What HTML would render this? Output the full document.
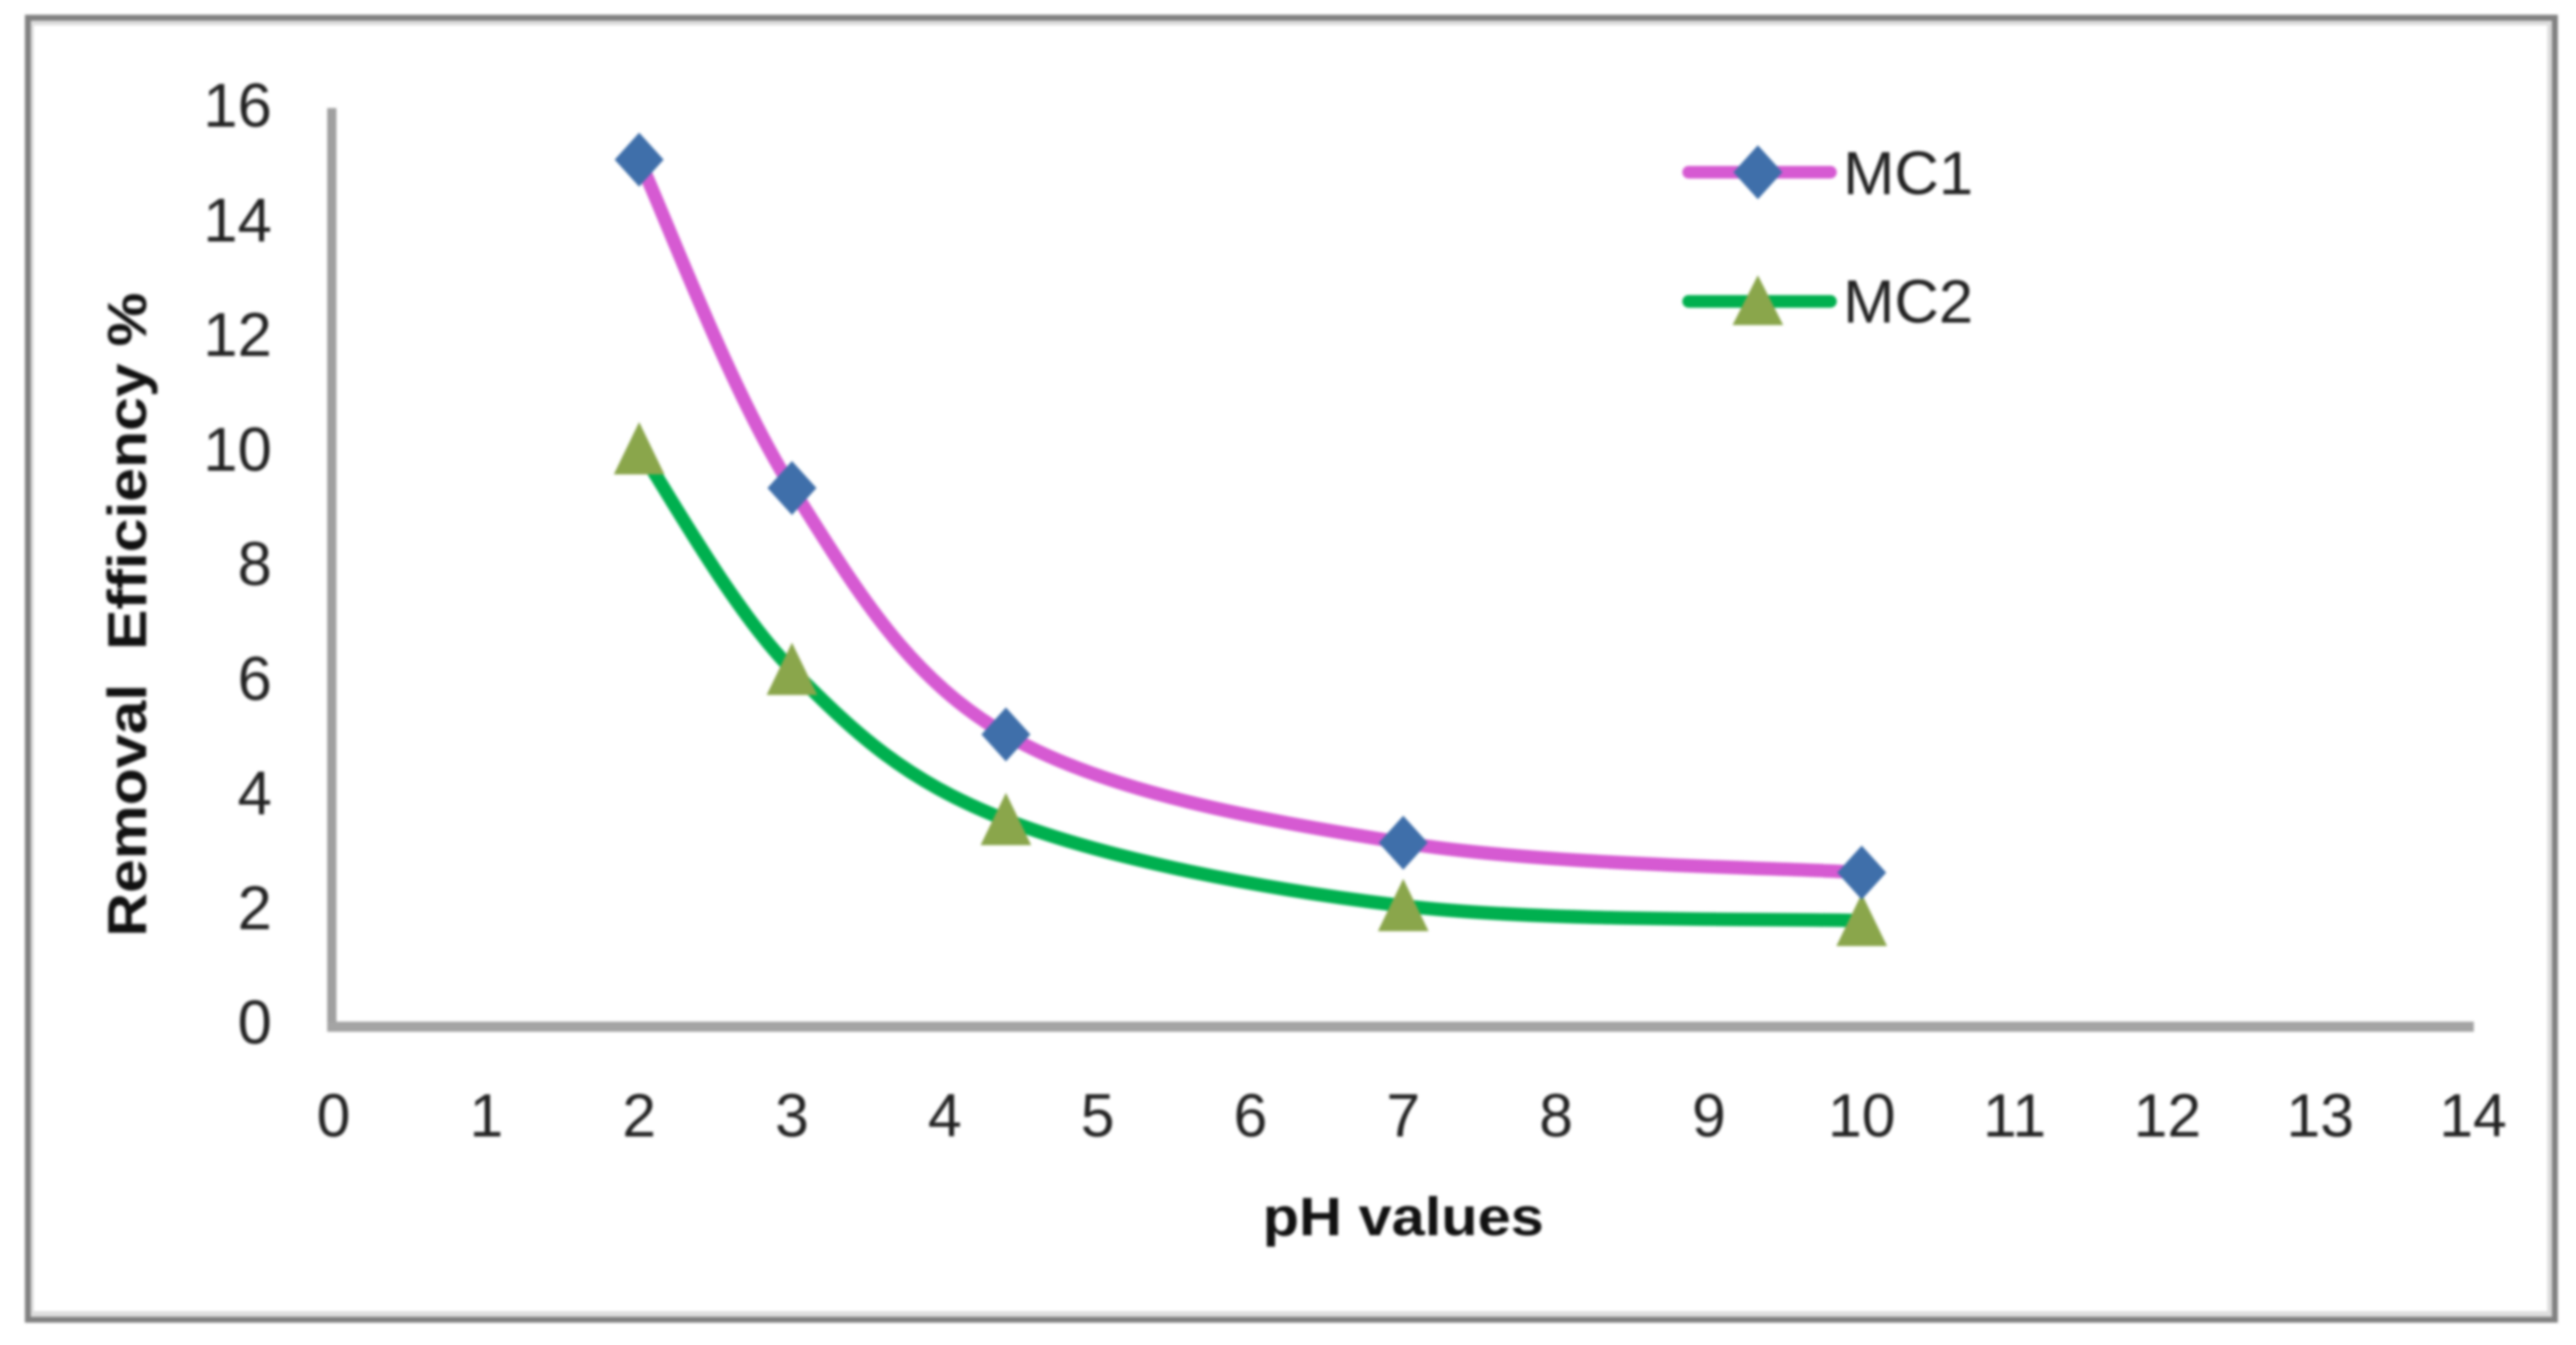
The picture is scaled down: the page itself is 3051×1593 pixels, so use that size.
<!DOCTYPE html>
<html lang="en">
<head>
<meta charset="utf-8">
<title>Removal Efficiency vs pH</title>
<style>
html,body{margin:0;padding:0;background:#fff;width:3051px;height:1593px;overflow:hidden}
svg{display:block}
text{font-family:"Liberation Sans",sans-serif;fill:#222}
#chart{filter:blur(1.5px)}
</style>
</head>
<body>
<svg id="root" width="3051" height="1593" viewBox="0 0 3051 1593" xmlns="http://www.w3.org/2000/svg">
  <g id="chart">
    <rect x="37" y="27" width="2983" height="1529" fill="none" stroke="#dddddd" stroke-width="6"/>
    <rect x="33" y="21" width="2993" height="1542" fill="#ffffff" fill-opacity="0" stroke="#808080" stroke-width="7"/>
    <line x1="393" y1="128" x2="393" y2="1222" stroke="#a0a0a0" stroke-width="11"/>
    <line x1="388" y1="1216" x2="2930" y2="1216" stroke="#a4a4a4" stroke-width="12"/>
    <g id="ticks"></g>
    <g id="series"></g>
    <text x="0" y="0" transform="translate(173 728) rotate(-90)" text-anchor="middle" font-size="65" font-weight="bold" textLength="763" lengthAdjust="spacingAndGlyphs" style="fill:#111;white-space:pre" xml:space="preserve">Removal  Efficiency %</text>
    <text x="1662" y="1463" text-anchor="middle" font-size="64" font-weight="bold" textLength="333" lengthAdjust="spacingAndGlyphs" style="fill:#111">pH values</text>
    <g>
      <g>
        <line x1="2000" y1="204" x2="2168" y2="204" stroke="#d65ad2" stroke-width="15" stroke-linecap="round"/>
        <polygon points="2082,172 2111,204 2082,236 2053,204" fill="#3f6faa"/>
        <text x="2183" y="230" font-size="72" textLength="154" lengthAdjust="spacingAndGlyphs">MC1</text>
      </g>
      <g>
        <line x1="2000" y1="357" x2="2168" y2="357" stroke="#00b04f" stroke-width="15" stroke-linecap="round"/>
        <polygon points="2082,326 2112,385 2052,385" fill="#8aa64b"/>
        <text x="2183" y="382" font-size="72" textLength="154" lengthAdjust="spacingAndGlyphs">MC2</text>
      </g>
    </g>
  </g>
</svg>
<script>
const phValues = [2, 3, 4.4, 7, 10];
const mc1Values = [15.1, 9.37, 5.07, 3.18, 2.66];
const mc2Values = [10.05, 6.2, 3.58, 2.08, 1.82];
const xTickLabels = [0, 1, 2, 3, 4, 5, 6, 7, 8, 9, 10, 11, 12, 13, 14];
const yTickLabels = [0, 2, 4, 6, 8, 10, 12, 14, 16];

const NS = 'http://www.w3.org/2000/svg';
const xMax = 14, yMax = 16;
function xScale(v) { return 395 + v * (2929 - 395) / xMax; }
function yScale(v) { return 1214 - v * (1214 - 128) / yMax; }

function smoothPath(xs, ys) {
  const pts = xs.map(function (x, i) { return [xScale(x), yScale(ys[i])]; });
  let d = 'M' + pts[0][0] + ' ' + pts[0][1];
  for (let i = 0; i < pts.length - 1; i++) {
    const p0 = pts[Math.max(i - 1, 0)], p1 = pts[i], p2 = pts[i + 1], p3 = pts[Math.min(i + 2, pts.length - 1)];
    const c1x = p1[0] + (p2[0] - p0[0]) / 6, c1y = p1[1] + (p2[1] - p0[1]) / 6;
    const c2x = p2[0] - (p3[0] - p1[0]) / 6, c2y = p2[1] - (p3[1] - p1[1]) / 6;
    d += ' C' + c1x + ' ' + c1y + ' ' + c2x + ' ' + c2y + ' ' + p2[0] + ' ' + p2[1];
  }
  return d;
}

const ticks = document.getElementById('ticks');
xTickLabels.forEach(function (t) {
  const el = document.createElementNS(NS, 'text');
  
  
  el.setAttribute('x', xScale(t));
  el.setAttribute('y', 1346);
  el.setAttribute('text-anchor', 'middle');
  el.setAttribute('font-size', 72);
  el.textContent = t;
  ticks.appendChild(el);
});
yTickLabels.forEach(function (t) {
  const el = document.createElementNS(NS, 'text');
  
  
  el.setAttribute('x', 322);
  el.setAttribute('y', yScale(t) + 22);
  el.setAttribute('text-anchor', 'end');
  el.setAttribute('font-size', 73);
  el.textContent = t;
  ticks.appendChild(el);
});

const series = document.getElementById('series');

const lineMc1 = document.createElementNS(NS, 'path');


lineMc1.setAttribute('d', smoothPath(phValues, mc1Values));
lineMc1.setAttribute('fill', 'none');
lineMc1.setAttribute('stroke', '#d65ad2');
lineMc1.setAttribute('stroke-width', 16);
series.appendChild(lineMc1);

const lineMc2 = document.createElementNS(NS, 'path');


lineMc2.setAttribute('d', smoothPath(phValues, mc2Values));
lineMc2.setAttribute('fill', 'none');
lineMc2.setAttribute('stroke', '#00b04f');
lineMc2.setAttribute('stroke-width', 16);
series.appendChild(lineMc2);

phValues.forEach(function (ph, i) {
  const cx = xScale(ph), cy = yScale(mc2Values[i]);
  const el = document.createElementNS(NS, 'polygon');
  
  
  el.setAttribute('points', cx + ',' + (cy - 32) + ' ' + (cx + 30) + ',' + (cy + 30) + ' ' + (cx - 30) + ',' + (cy + 30));
  el.setAttribute('fill', '#8aa64b');
  series.appendChild(el);
});
phValues.forEach(function (ph, i) {
  const cx = xScale(ph), cy = yScale(mc1Values[i]);
  const el = document.createElementNS(NS, 'polygon');
  
  
  el.setAttribute('points', cx + ',' + (cy - 32) + ' ' + (cx + 29) + ',' + cy + ' ' + cx + ',' + (cy + 32) + ' ' + (cx - 29) + ',' + cy);
  el.setAttribute('fill', '#3f6faa');
  series.appendChild(el);
});
</script>
</body>
</html>
